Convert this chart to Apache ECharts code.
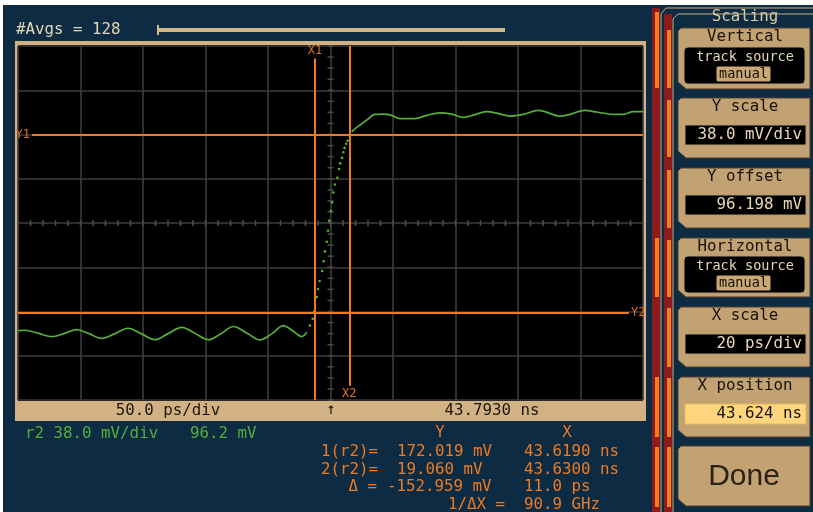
<!DOCTYPE html>
<html>
<head>
<meta charset="utf-8">
<script src="https://cdn.jsdelivr.net/npm/echarts@6/dist/echarts.min.js"></script>
<style>
html,body{margin:0;padding:0;background:#ffffff;}
#c{width:813px;height:512px;}
</style>
</head>
<body>
<div id="c"></div>
<script>
// ---- scope settings ----
const timeCenterNs = 43.624;     // X position
const psPerDiv = 20;
const voltCenterMv = 96.198;     // Y offset
const mvPerDiv = 38.0;

// ---- waveform r2 (time in ps relative to X position, value in mV) ----
const traceTimePs = [-100, -97.8, -93.6, -89.2, -85.3, -81.2, -77.3, -73.2, -69.0, -64.8,
  -60.6, -56.2, -52.0, -47.6, -43.4, -39.1, -35.0, -31.1, -26.7, -22.6,
  -18.7, -15.1, -11.9, -9.2, -7.6, -6.6, -5.7, -5.2, -4.4, -4.0,
  -3.5, -2.7, -2.2, -1.8, -1.2, -0.8, -0.4, 0.1, 0.5, 0.9,
  1.4, 2.2, 2.7, 3.1, 3.7, 4.1, 4.5, 5.0, 5.5, 6.0,
  6.8, 7.8, 10.0, 11.6, 14.2, 16.9, 19.6, 22.2, 27.0, 30.8,
  35.0, 38.8, 42.5, 45.7, 50.0, 53.6, 57.4, 61.7, 66.5, 68.6,
  73.4, 76.6, 81.4, 85.2, 90.5, 93.7, 96.9, 100];
const traceMv = [3.8, 4.1, 1.6, -1.4, 1.2, 4.7, 1.2, -2.9, 1.2, 5.8,
  1.2, -4.0, 1.2, 6.6, 1.6, -4.0, 1.2, 7.3, 1.6, -4.2,
  1.2, 8.1, 3.2, -1.4, 2.3, 8.1, 13.9, 20.2, 32.6, 39.5,
  46.4, 55.0, 63.4, 71.8, 80.1, 89.6, 98.2, 106.6, 113.7, 122.4,
  129.3, 135.1, 142.6, 147.4, 152.1, 156.9, 160.7, 164.2, 166.8, 171.3,
  174.5, 177.1, 181.4, 184.6, 189.5, 189.7, 188.6, 185.8, 185.8, 188.6,
  190.8, 189.7, 186.9, 188.9, 191.8, 190.3, 188.0, 189.5, 192.9, 191.8,
  188.0, 189.5, 192.9, 191.5, 189.5, 189.5, 191.8, 191.8];
// fast edge is drawn as separate acquisition dots
const edgeStartPs = -7.6;
const edgeEndPs = 6.8;

// ---- cursors ----
const cursorXns = [43.6190, 43.6300];
const cursorYmV = [172.019, 19.060];
const cursorXNames = ['X1', 'X2'];
const cursorYNames = ['Y1', 'Y2'];

// ---- texts ----
const avgText = '#Avgs = 128';
const timebaseText = '50.0 ps/div';
const triggerText = '43.7930 ns';
const sourceScaleText = 'r2 38.0 mV/div';
const sourceOffsetText = '96.2 mV';
const measHeaders = ['Y', 'X'];
const measLabels = ['1(r2)=', '2(r2)=', '\u0394 =', '1/\u0394X ='];
const measY = ['172.019 mV', '19.060 mV', '-152.959 mV', ''];
const measX = ['43.6190 ns', '43.6300 ns', '11.0 ps', '90.9 GHz'];
const menuTitle = 'Scaling';
const menuButtons = ['Vertical', 'Y scale', 'Y offset', 'Horizontal', 'X scale', 'X position', 'Done'];
const menuValues = ['', '38.0 mV/div', '96.198 mV', '', '20 ps/div', '43.624 ns', ''];

// ---- derived ----
const halfX = 5 * psPerDiv, halfY = 4 * mvPerDiv;
const rel = traceTimePs.map((t, i) => [t, traceMv[i] - voltCenterMv]);
const preEdge = rel.filter(p => p[0] <= edgeStartPs);
const edgeDots = rel.filter(p => p[0] > edgeStartPs && p[0] < edgeEndPs);
const postEdge = rel.filter(p => p[0] >= edgeEndPs);
const cxPs = cursorXns.map(v => +((v - timeCenterNs) * 1000).toFixed(3));
const cyRel = cursorYmV.map(v => +(v - voltCenterMv).toFixed(3));

const tickData = [];
for (let k = -25; k <= 25; k++) tickData.push([k * psPerDiv / 5, 0, 0]);
for (let k = -16; k <= 16; k++) tickData.push([0, k * mvPerDiv / 4, 1]);

// ---- colours / fonts ----
const NAVY = '#0d2c44', TAN2 = '#c2a172', ORANGE = '#ee7a22', GREEN = '#56ad3a';
const MONO = '"DejaVu Sans Mono", monospace';
const F = (s) => s + 'px ' + MONO;

function T(x, y, text, fill, align, font, extra) {
  return Object.assign({ type: 'text', x: x, y: y, z: 50, silent: true,
    style: { text: text, fill: fill, font: font || F(15.8), align: align || 'left', textAlign: align || 'left',
      verticalAlign: 'middle', textVerticalAlign: 'middle' } }, extra || {});
}
function R(x, y, w, h, fill, stroke, r, z) {
  return { type: 'rect', z: z == null ? 1 : z, silent: true, shape: { x: x, y: y, width: w, height: h, r: r || 0 },
    style: { fill: fill, stroke: stroke || null, lineWidth: stroke ? 1 : 0 } };
}

const g = [];
// page background (screenshot border)
g.push(R(3, 5, 810, 507, NAVY, null, 0, -20));
// top averaging text + bar
g.push(T(16, 30, avgText, '#e4d5b5'));
g.push(R(157, 28, 348, 4, '#d6b988', null, 0, 2));
g.push(R(157, 25, 2, 10, '#d6b988', null, 0, 2));
// plot frame
g.push(R(15, 41, 631, 380, '#d2b283', null, 0, -10));
g.push(R(18, 45, 625, 356, '#000000', null, 0, -9));
g.push(T(168, 411, timebaseText, '#1b1711', 'center'));
g.push(T(331, 410, '\u2191', '#1b1711', 'center'));
g.push(T(492, 411, triggerText, '#1b1711', 'center'));
// source info
g.push(T(25, 434, sourceScaleText, GREEN));
g.push(T(190, 434, sourceOffsetText, GREEN));
// measurement table
g.push(T(440, 433, measHeaders[0], ORANGE, 'center'));
g.push(T(567, 433, measHeaders[1], ORANGE, 'center'));
const rowsY = [452, 470, 487, 505];
const labelRight = [378, 378, 377, 505];
const yLeft = [397, 397, 387, 397];
measLabels.forEach((l, i) => {
  g.push(T(labelRight[i], rowsY[i], l, ORANGE, 'right'));
  if (measY[i]) g.push(T(yLeft[i], rowsY[i], measY[i], ORANGE));
  g.push(T(524, rowsY[i], measX[i], ORANGE));
});

// ---- right menu ----
const stripA = [[12, 88], [238, 297], [377, 437], [447, 507]];
const stripB = [[30, 88], [100, 157], [170, 228], [240, 297], [308, 367], [378, 437], [447, 507]];
g.push(R(652, 8, 8, 504, '#8e1b1b', null, 0, 1));
g.push(R(664, 14, 8, 498, '#8e1b1b', null, 0, 1));
stripA.forEach(s => g.push(R(655, s[0], 4, s[1] - s[0], '#f07f24', null, 0, 2)));
stripB.forEach(s => g.push(R(667, s[0], 4, s[1] - s[0], '#f07f24', null, 0, 2)));
g.push({ type: 'polyline', z: 2, silent: true, shape: { points: [[661, 512], [661, 14], [666, 8], [813, 8]] }, style: { stroke: '#c9ad80', lineWidth: 1, fill: null } });
g.push({ type: 'polyline', z: 2, silent: true, shape: { points: [[673, 512], [673, 19], [678, 14], [813, 14]] }, style: { stroke: '#c9ad80', lineWidth: 1, fill: null } });
g.push(T(745, 17, menuTitle, '#dccaa0', 'center'));

const btnTop = [28, 98, 168, 238, 307, 377, 446];
const btnBot = [89, 158, 228, 297, 367, 437, 506];
menuButtons.forEach((b, i) => {
  const y0 = btnTop[i], y1 = btnBot[i];
  g.push({ type: 'polygon', z: 3, silent: true,
    shape: { points: [[681, y0], [810, y0], [810, y1], [686, y1], [678, y1 - 7], [678, y0 + 3]] },
    style: { fill: TAN2, stroke: '#4e3f2a', lineWidth: 1 } });
  if (b === 'Done') {
    g.push(T(744, 477, b, '#2a2214', 'center', '30px "Liberation Sans", sans-serif'));
    return;
  }
  g.push(T(745, y0 + 9, b, '#17120a', 'center'));
  if (b === 'Vertical' || b === 'Horizontal') {
    const by = y0 + (b === 'Vertical' ? 19 : 18);
    g.push(R(684, by, 121, 37, '#000', '#b49a70', 4, 4));
    g.push(T(745, by + 10, 'track source', '#e6d8b8', 'center', F(13.5)));
    g.push(R(716, by + 19, 55, 16, '#c8a874', '#000', 2, 5));
    g.push(T(743.5, by + 27, 'manual', '#120e08', 'center', F(13.5)));
  } else {
    const fy = y0 + 27;
    const hl = b === 'X position';
    g.push(R(685, fy, 121, 20, hl ? '#ffd57e' : '#000', hl ? '#e0b860' : '#b49a70', 0, 4));
    g.push(T(802, fy + 10, menuValues[i], hl ? '#17120a' : '#ead9b5', 'right'));
  }
});

// ---- chart ----
const chart = echarts.init(document.getElementById('c'), null, { renderer: 'canvas' });
chart.setOption({
  backgroundColor: '#ffffff',
  animation: false,
  grid: { left: 18, top: 46, width: 625, height: 354, show: false },
  xAxis: { type: 'value', min: -halfX, max: halfX, interval: psPerDiv,
    axisLine: { show: false }, axisTick: { show: false }, axisLabel: { show: false },
    splitLine: { show: true, lineStyle: { color: '#3b3b3b', width: 1.6 } } },
  yAxis: { type: 'value', min: -halfY, max: halfY, interval: mvPerDiv,
    axisLine: { show: false }, axisTick: { show: false }, axisLabel: { show: false },
    splitLine: { show: true, lineStyle: { color: '#3b3b3b', width: 1.6 } } },
  graphic: { elements: g },
  series: [
    { type: 'custom', z: 1, silent: true, data: tickData, clip: false,
      renderItem: function (params, api) {
        const p = api.coord([api.value(0), api.value(1)]);
        const v = api.value(2) === 0;
        return { type: 'line', shape: v ? { x1: p[0], y1: p[1] - 3, x2: p[0], y2: p[1] + 3 }
                                         : { x1: p[0] - 3, y1: p[1], x2: p[0] + 3, y2: p[1] },
          style: { stroke: '#4a4a4a', lineWidth: 1.6 } };
      } },
    { type: 'line', z: 4, data: preEdge, showSymbol: false, smooth: 0.35, silent: true,
      lineStyle: { color: GREEN, width: 1.7 } },
    { type: 'line', z: 4, data: postEdge, showSymbol: false, smooth: 0.35, silent: true,
      lineStyle: { color: GREEN, width: 1.7 } },
    { type: 'scatter', z: 4, data: edgeDots, symbolSize: 2.6, silent: true,
      itemStyle: { color: GREEN, opacity: 1 } },
    { type: 'line', z: 6, data: [], silent: true,
      markLine: { silent: true, symbol: 'none', animation: false,
        lineStyle: { color: ORANGE, width: 2, type: 'solid' },
        label: { show: true, color: '#e0701c', fontSize: 12, fontFamily: MONO, distance: 2 },
        data: [
          [{ coord: [cxPs[0], halfY * 0.93], label: { position: 'start', formatter: cursorXNames[0] } }, { coord: [cxPs[0], -halfY] }],
          [{ coord: [cxPs[1], halfY] }, { coord: [cxPs[1], -halfY * 0.92], label: { position: 'end', formatter: cursorXNames[1] } }],
          [{ coord: [-halfX * 0.955, cyRel[0]], label: { position: 'start', formatter: cursorYNames[0] } }, { coord: [halfX, cyRel[0]] }],
          [{ coord: [-halfX, cyRel[1]] }, { coord: [halfX * 0.955, cyRel[1]], label: { position: 'end', formatter: cursorYNames[1] } }]
        ] } }
  ]
});
</script>
</body>
</html>
